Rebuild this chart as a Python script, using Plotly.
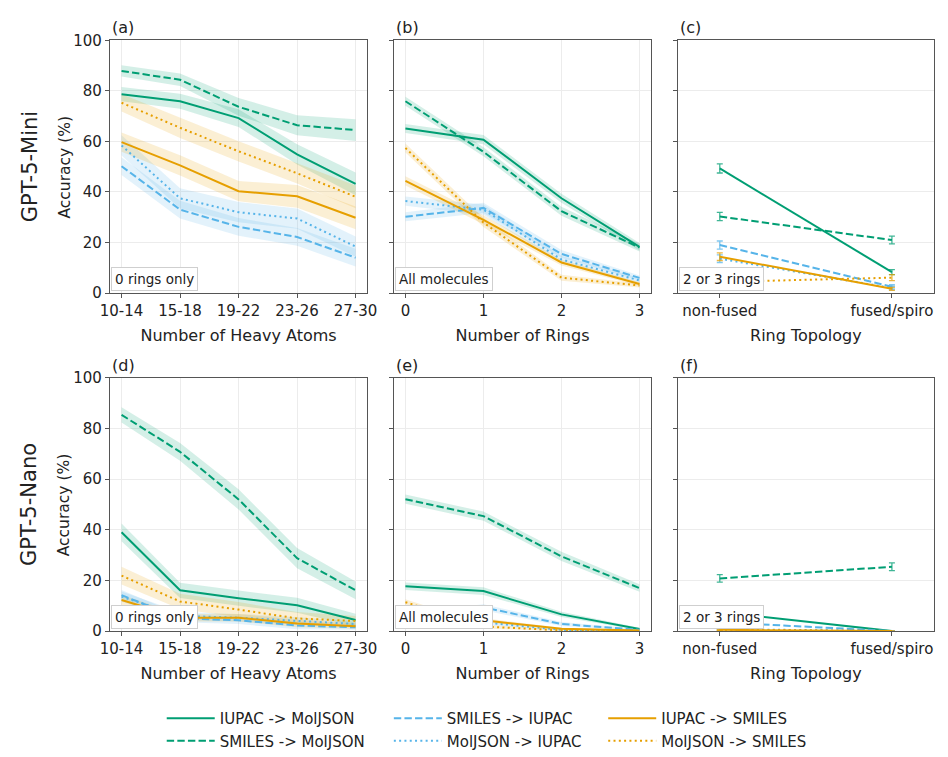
import plotly.graph_objects as go

# ---------------- data ----------------
atoms = ["10-14", "15-18", "19-22", "23-26", "27-30"]
rings = [0, 1, 2, 3]
topo = ["non-fused", "fused/spiro"]

series = ["IUPAC -> MolJSON", "SMILES -> MolJSON", "SMILES -> IUPAC",
          "MolJSON -> IUPAC", "IUPAC -> SMILES", "MolJSON -> SMILES"]

# (a) GPT-5-Mini vs heavy atoms (0 rings only)
mini_atoms = {
    "IUPAC -> MolJSON": [78.7, 75.9, 69.2, 54.9, 43.2],
    "SMILES -> MolJSON": [87.9, 84.4, 73.7, 66.4, 64.5],
    "SMILES -> IUPAC": [50.2, 33.0, 26.2, 22.2, 14.0],
    "MolJSON -> IUPAC": [58.4, 37.5, 32.0, 29.5, 18.4],
    "IUPAC -> SMILES": [59.7, 50.5, 40.3, 38.3, 29.8],
    "MolJSON -> SMILES": [75.3, 65.4, 56.1, 47.4, 38.1],
}
mini_atoms_ci = {
    "IUPAC -> MolJSON": [2.8, 3.0, 3.5, 4.0, 4.5],
    "SMILES -> MolJSON": [2.2, 2.5, 3.5, 4.0, 4.3],
    "SMILES -> IUPAC": [3.5, 3.5, 3.5, 3.5, 3.5],
    "MolJSON -> IUPAC": [4.0, 4.0, 4.0, 4.0, 4.0],
    "IUPAC -> SMILES": [3.8, 4.0, 4.0, 4.5, 4.5],
    "MolJSON -> SMILES": [3.5, 4.0, 4.0, 4.0, 4.5],
}
# (b) GPT-5-Mini vs number of rings (all molecules)
mini_rings = {
    "IUPAC -> MolJSON": [65.1, 60.7, 37.5, 18.3],
    "SMILES -> MolJSON": [75.9, 55.9, 32.4, 18.0],
    "SMILES -> IUPAC": [30.2, 33.7, 15.5, 6.0],
    "MolJSON -> IUPAC": [36.4, 33.0, 13.3, 5.0],
    "IUPAC -> SMILES": [44.4, 29.0, 12.1, 3.6],
    "MolJSON -> SMILES": [57.4, 27.9, 6.1, 3.0],
}
mini_rings_ci = {
    "IUPAC -> MolJSON": [1.8, 1.8, 1.8, 1.5],
    "SMILES -> MolJSON": [1.8, 1.8, 1.8, 1.5],
    "SMILES -> IUPAC": [1.8, 2.0, 1.5, 1.0],
    "MolJSON -> IUPAC": [1.8, 2.0, 1.5, 1.0],
    "IUPAC -> SMILES": [1.8, 1.8, 1.2, 0.8],
    "MolJSON -> SMILES": [1.8, 1.8, 1.2, 0.8],
}
# (c) GPT-5-Mini vs ring topology (2 or 3 rings)
mini_topo = {
    "IUPAC -> MolJSON": [49.3, 8.3],
    "SMILES -> MolJSON": [30.3, 21.0],
    "SMILES -> IUPAC": [19.0, 2.5],
    "MolJSON -> IUPAC": [13.6, 2.0],
    "IUPAC -> SMILES": [14.4, 1.7],
    "MolJSON -> SMILES": [4.4, 6.1],
}
mini_topo_err = {
    "IUPAC -> MolJSON": [1.8, 1.0],
    "SMILES -> MolJSON": [1.6, 1.5],
    "SMILES -> IUPAC": [1.6, 0.8],
    "MolJSON -> IUPAC": [1.5, 0.7],
    "IUPAC -> SMILES": [1.5, 0.6],
    "MolJSON -> SMILES": [0.8, 1.2],
}
# (d) GPT-5-Nano vs heavy atoms
nano_atoms = {
    "IUPAC -> MolJSON": [39.0, 16.1, 13.0, 10.2, 4.4],
    "SMILES -> MolJSON": [85.4, 70.8, 52.0, 28.8, 16.1],
    "SMILES -> IUPAC": [14.2, 5.0, 4.3, 2.2, 1.5],
    "MolJSON -> IUPAC": [13.6, 6.0, 5.3, 4.0, 2.8],
    "IUPAC -> SMILES": [12.3, 5.3, 5.3, 3.0, 1.9],
    "MolJSON -> SMILES": [21.9, 11.7, 8.5, 5.0, 4.0],
}
nano_atoms_ci = {
    "IUPAC -> MolJSON": [3.5, 3.0, 3.0, 3.0, 2.5],
    "SMILES -> MolJSON": [3.0, 3.5, 4.0, 4.0, 3.5],
    "SMILES -> IUPAC": [2.0, 1.5, 1.5, 1.5, 1.0],
    "MolJSON -> IUPAC": [2.0, 1.5, 1.5, 1.5, 1.0],
    "IUPAC -> SMILES": [2.0, 1.5, 1.5, 1.5, 1.0],
    "MolJSON -> SMILES": [3.5, 3.0, 3.0, 2.5, 2.0],
}
# (e) GPT-5-Nano vs number of rings
nano_rings = {
    "IUPAC -> MolJSON": [17.7, 15.8, 6.6, 0.8],
    "SMILES -> MolJSON": [52.1, 45.4, 29.5, 17.0],
    "SMILES -> IUPAC": [6.0, 9.4, 2.8, 0.5],
    "MolJSON -> IUPAC": [5.0, 3.4, 0.5, 0.2],
    "IUPAC -> SMILES": [8.0, 4.3, 0.9, 0.2],
    "MolJSON -> SMILES": [11.4, 1.8, 0.3, 0.1],
}
nano_rings_ci = {
    "IUPAC -> MolJSON": [1.5, 1.5, 1.0, 0.5],
    "SMILES -> MolJSON": [1.8, 1.8, 1.8, 1.5],
    "SMILES -> IUPAC": [1.0, 1.2, 0.8, 0.3],
    "MolJSON -> IUPAC": [1.0, 0.8, 0.3, 0.2],
    "IUPAC -> SMILES": [1.0, 0.8, 0.4, 0.2],
    "MolJSON -> SMILES": [1.2, 0.8, 0.3, 0.1],
}
# (f) GPT-5-Nano vs ring topology
nano_topo = {
    "IUPAC -> MolJSON": [7.5, 0.0],
    "SMILES -> MolJSON": [20.8, 25.4],
    "SMILES -> IUPAC": [3.5, 0.0],
    "MolJSON -> IUPAC": [0.8, 0.0],
    "IUPAC -> SMILES": [0.5, 0.0],
    "MolJSON -> SMILES": [0.5, 0.0],
}
nano_topo_err = {
    "IUPAC -> MolJSON": [0.8, 0.0],
    "SMILES -> MolJSON": [1.5, 1.5],
    "SMILES -> IUPAC": [0.5, 0.0],
    "MolJSON -> IUPAC": [0.3, 0.0],
    "IUPAC -> SMILES": [0.3, 0.0],
    "MolJSON -> SMILES": [0.3, 0.0],
}

# ---------------- styles ----------------
GREEN = (0, 158, 115)
BLUE = (86, 180, 233)
ORANGE = (230, 159, 0)
DASH = "7.4px,3.2px"
DOT = "2px,3.3px"
style = {
    "IUPAC -> MolJSON": (GREEN, "solid", "legend"),
    "SMILES -> MolJSON": (GREEN, DASH, "legend"),
    "SMILES -> IUPAC": (BLUE, DASH, "legend2"),
    "MolJSON -> IUPAC": (BLUE, DOT, "legend2"),
    "IUPAC -> SMILES": (ORANGE, "solid", "legend3"),
    "MolJSON -> SMILES": (ORANGE, DOT, "legend3"),
}


def rgb(c, a=1.0):
    return f"rgba({c[0]},{c[1]},{c[2]},{a})"


FONT = "DejaVu Sans"
fig = go.Figure()

panels = [
    (1, atoms, mini_atoms, mini_atoms_ci, None),
    (2, rings, mini_rings, mini_rings_ci, None),
    (3, topo, mini_topo, None, mini_topo_err),
    (4, atoms, nano_atoms, nano_atoms_ci, None),
    (5, rings, nano_rings, nano_rings_ci, None),
    (6, topo, nano_topo, None, nano_topo_err),
]

for idx, xs, data, ci, err in panels:
    xa = "x" if idx == 1 else f"x{idx}"
    ya = "y" if idx == 1 else f"y{idx}"
    if ci is not None:
        for s in series:
            col = style[s][0]
            lo = [v - e for v, e in zip(data[s], ci[s])]
            hi = [v + e for v, e in zip(data[s], ci[s])]
            fig.add_trace(go.Scatter(x=xs, y=lo, mode="lines", line=dict(width=0),
                                     showlegend=False, hoverinfo="skip", xaxis=xa, yaxis=ya))
            fig.add_trace(go.Scatter(x=xs, y=hi, mode="lines", line=dict(width=0),
                                     fill="tonexty", fillcolor=rgb(col, 0.17),
                                     showlegend=False, hoverinfo="skip", xaxis=xa, yaxis=ya))
    for s in series:
        col, dash, leg = style[s]
        kw = {}
        if err is not None:
            kw["error_y"] = dict(type="data", array=err[s], visible=True,
                                 color=rgb(col, 0.75), thickness=1.3, width=3)
        fig.add_trace(go.Scatter(x=xs, y=data[s], mode="lines", name=s,
                                 line=dict(color=rgb(col), width=2, dash=dash),
                                 showlegend=(idx == 1), legend=leg,
                                 xaxis=xa, yaxis=ya, **kw))

# ---------------- layout ----------------
W, H = 948, 757
xdom = [(102 / W, 365 / W), (392 / W, 655 / W), (682 / W, 944 / W)]
ydom = [(1 - 295 / H, 1 - 32.5 / H), (1 - 646 / H, 1 - 383 / H)]
xranges = [[-0.2, 4.2], [-0.15, 3.15], [-0.245, 1.245]]
xtitles = ["Number of Heavy Atoms", "Number of Rings", "Ring Topology"]

layout = dict(
    width=W, height=H, margin=dict(l=0, r=0, t=0, b=0),
    paper_bgcolor="white", plot_bgcolor="white",
    font=dict(family=FONT, size=15, color="#222"),
)
axis_common = dict(showline=True, mirror=True, linecolor="#555", linewidth=1,
                   ticks="outside", ticklen=4, tickcolor="#555",
                   showgrid=True, gridcolor="#ececec", gridwidth=1, zeroline=False,
                   tickfont=dict(family=FONT, size=15, color="#222"))
for i in range(6):
    r, c = divmod(i, 3)
    n = "" if i == 0 else str(i + 1)
    xa = dict(axis_common, domain=list(xdom[c]), anchor=f"y{n}", range=xranges[c],
              showgrid=(c != 2),
              title=dict(text=xtitles[c], font=dict(family=FONT, size=16), standoff=10))
    if c == 1:
        xa.update(tickmode="array", tickvals=rings, ticktext=[str(v) for v in rings])
    ya = dict(axis_common, domain=list(ydom[r]), anchor=f"x{n}", range=[0, 100],
              tickvals=[0, 20, 40, 60, 80, 100], showticklabels=(c == 0))
    layout[f"xaxis{n}"] = xa
    layout[f"yaxis{n}"] = ya

ann = []
labels = ["(a)", "(b)", "(c)", "(d)", "(e)", "(f)"]
boxes = ["0 rings only", "All molecules", "2 or 3 rings"]
for i in range(6):
    r, c = divmod(i, 3)
    n = "" if i == 0 else str(i + 1)
    ann.append(dict(text=labels[i], xref=f"x{n} domain", yref=f"y{n} domain",
                    x=0, y=1.005, xanchor="left", yanchor="bottom", showarrow=False,
                    font=dict(family=FONT, size=16, color="#222")))
    ann.append(dict(text=boxes[c], xref=f"x{n} domain", yref=f"y{n} domain",
                    x=0.006, y=0.01, xanchor="left", yanchor="bottom", showarrow=False,
                    bgcolor="white", bordercolor="#cfcfcf", borderwidth=1, borderpad=3,
                    font=dict(family=FONT, size=13.5, color="#222")))
for r, name in enumerate(["GPT-5-Mini", "GPT-5-Nano"]):
    yc = (ydom[r][0] + ydom[r][1]) / 2
    ann.append(dict(text=name, xref="paper", yref="paper", x=20 / W, y=yc,
                    textangle=-90, showarrow=False, xanchor="center", yanchor="middle",
                    font=dict(family=FONT, size=21, color="#222")))
    ann.append(dict(text="Accuracy (%)", xref="paper", yref="paper", x=56 / W, y=yc,
                    textangle=-90, showarrow=False, xanchor="center", yanchor="middle",
                    font=dict(family=FONT, size=15.5, color="#222")))
layout["annotations"] = ann

leg_common = dict(orientation="v", bgcolor="rgba(0,0,0,0)", tracegroupgap=0,
                  traceorder="normal",
                  font=dict(family=FONT, size=15, color="#222"), itemwidth=48,
                  yanchor="top", xanchor="left")
layout["legend"] = dict(leg_common, x=155 / W, y=1 - 720 / H)
layout["legend2"] = dict(leg_common, x=387 / W, y=1 - 720 / H)
layout["legend3"] = dict(leg_common, x=606 / W, y=1 - 720 / H)

fig.update_layout(**layout)
fig.write_html("out.html")
